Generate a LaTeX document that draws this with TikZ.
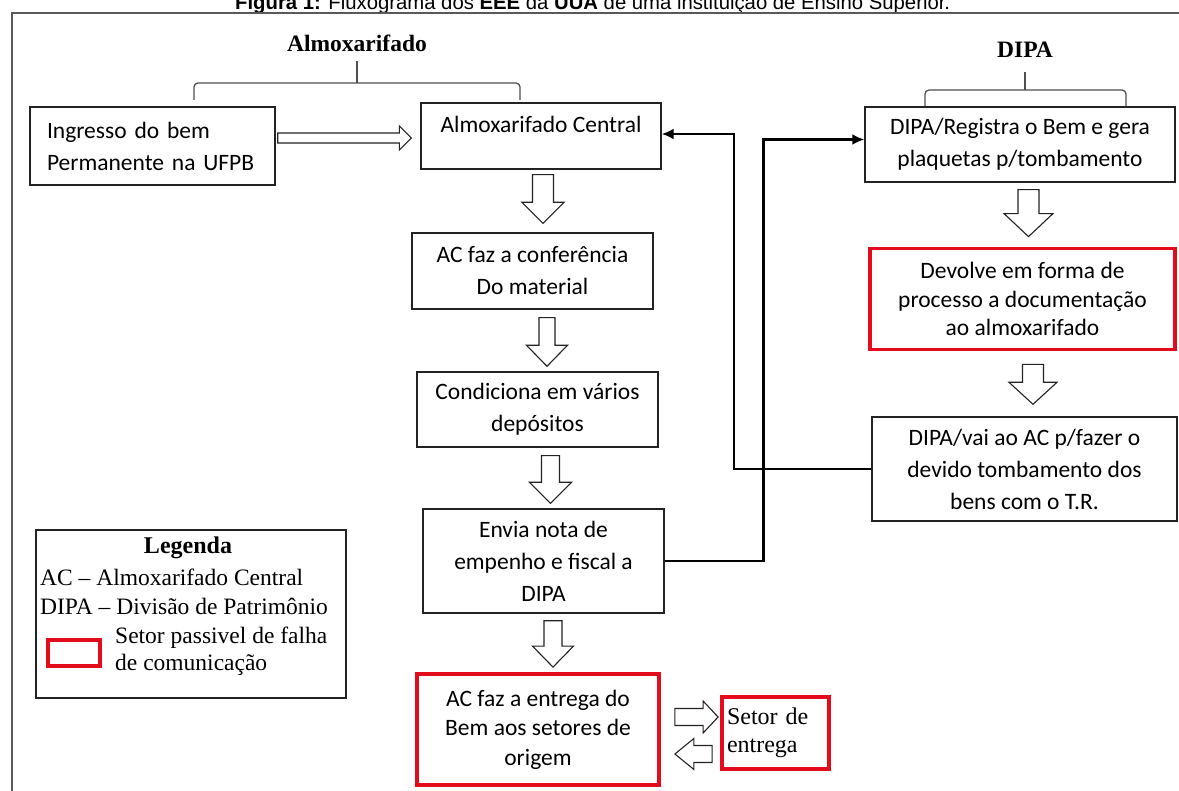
\documentclass[tikz,border=0pt]{standalone}
\usepackage{fontspec}
\setmainfont{Liberation Serif}
\newfontfamily\calib{Carlito}
\newfontfamily\arsans{Liberation Sans}
\usetikzlibrary{calc,arrows.meta}
\definecolor{frred}{RGB}{228,12,28}
\definecolor{lineg}{RGB}{35,35,35}
\tikzset{
  box/.style={draw=lineg, line width=1.4, align=center, inner sep=0,
    font=\calib\fontsize{23.5}{32}\selectfont},
  redbox/.style={box, draw=frred, line width=3.8},
  blk/.style={draw=lineg, line width=1.1, fill=white, line join=miter},
  conn/.style={draw=black, line width=2.4, -{Latex[length=12,width=11]}},
  brace/.style={draw=lineg!80, line width=1.3, rounded corners=4},
  legtxt/.style={font=\fontsize{23.5}{26}\selectfont, inner sep=0, align=left},
  frame/.style={draw=black!65, line width=2}
}
% vertical block arrow: start, tip, shaft half width, head half width, head length
\newcommand\vblk[5]{%
  \draw[blk] let \p1=(#1), \p2=(#2) in
    ({\x1-#3},{\y1}) -- ({\x1+#3},{\y1}) -- ({\x1+#3},{\y2+#5}) -- ({\x1+#4},{\y2+#5})
    -- ({\x1},{\y2}) -- ({\x1-#4},{\y2+#5}) -- ({\x1-#3},{\y2+#5}) -- cycle;}
% horizontal block arrow: start, tip, shaft half, head half, head length (negative = leftwards)
\newcommand\hblk[5]{%
  \draw[blk] let \p1=(#1), \p2=(#2) in
    ({\x1},{\y1-#3}) -- ({\x1},{\y1+#3}) -- ({\x2-(#5)},{\y1+#3}) -- ({\x2-(#5)},{\y1+#4})
    -- ({\x2},{\y1}) -- ({\x2-(#5)},{\y1-#4}) -- ({\x2-(#5)},{\y1-#3}) -- cycle;}
\begin{document}
\begin{tikzpicture}[x=1pt,y=-1pt]
\useasboundingbox (0,0) rectangle (1179,791);
\clip (0,0) rectangle (1179,791);
\fill[white] (0,0) rectangle (1179,791);

% caption (cut off at the top, as in the source)
\node[anchor=base west, font=\arsans\fontsize{20.3}{22}\selectfont, inner sep=0] (cap) at (235,9.5)
  {\textbf{Figura 1:} Fluxograma dos \textbf{EEE} da \textbf{UUA} de uma instituição de Ensino Superior.};

% outer frame
\draw[frame] (12,791) -- (12,13) -- (1179,13);

% headers and braces
\node[font=\bfseries\fontsize{23.5}{26}\selectfont, inner sep=0] (halm) at (357,43) {Almoxarifado};
\node[font=\bfseries\fontsize{23.5}{26}\selectfont, inner sep=0] (hdipa) at (1025,50) {DIPA};
\draw[brace] (194,100) -- (194,83) -- (520,83) -- (520,100);
\draw[brace] (357,83) -- (357,61);
\draw[brace] (925,106) -- (925,90) -- (1126,90) -- (1126,106);
\draw[brace] (1025,90) -- (1025,72);

% boxes
\node[box, align=left, text width=211, inner xsep=17, minimum height=78] (ingresso) at (152.5,146)
  {Ingresso do bem\\Permanente na UFPB};
\node[box, minimum width=240, minimum height=66, text depth=23] (almc) at (541,136)
  {Almoxarifado Central};
\node[box, minimum width=241, minimum height=76] (conf) at (532.5,271)
  {AC faz a conferência\\Do material};
\node[box, minimum width=241, minimum height=75] (cond) at (537.5,409.5)
  {Condiciona em vários\\depósitos};
\node[box, minimum width=241, minimum height=104] (envia) at (543.5,561)
  {Envia nota de\\empenho e fiscal a\\DIPA};
\node[redbox, minimum width=242, minimum height=111, font=\calib\fontsize{23.5}{29.5}\selectfont] (entrega) at (538,729.5)
  {AC faz a entrega do\\Bem aos setores de\\origem};
\node[redbox, align=left, text width=97, inner xsep=5, minimum height=72, font=\fontsize{24}{28}\selectfont] (setor) at (775.5,733)
  {Setor de\\entrega};
\node[box, minimum width=310, minimum height=75] (dreg) at (1020,144.5)
  {DIPA/Registra o Bem e gera\\plaquetas p/tombamento};
\node[redbox, minimum width=305, minimum height=101, font=\calib\fontsize{23.5}{28.5}\selectfont] (devolve) at (1022.5,299)
  {Devolve em forma de\\processo a documentação\\ao almoxarifado};
\node[box, minimum width=305, minimum height=104] (dvai) at (1024.5,469)
  {DIPA/vai ao AC p/fazer o\\devido tombamento dos\\bens com o T.R.};

% legend
\node[draw=lineg, line width=1.4, minimum width=310, minimum height=168, inner sep=0] (legend) at (191,614) {};
\node[font=\bfseries\fontsize{24}{26}\selectfont, inner sep=0] (legtitle) at (188,548) {Legenda};
\node[legtxt, anchor=west] (leg1) at (40,577) {AC -- Almoxarifado Central};
\node[legtxt, anchor=west] (leg2) at (40,606) {DIPA -- Divisão de Patrimônio};
\node[draw=frred, line width=3.8, minimum width=52, minimum height=26, inner sep=0] (legred) at (74,653) {};
\node[legtxt, anchor=west, font=\fontsize{23.5}{27}\selectfont] (leg3) at (115,651) {Setor passivel de falha\\de comunicação};

% block arrows
\hblk{$(ingresso.east)+(2,-8)$}{$(almc.west)+(-9,0)$}{5pt}{12pt}{12pt}
\vblk{$(almc.south)+(2,5)$}{$(conf.north)+(0,-9)$}{10.5pt}{21pt}{21pt}
\vblk{$(conf.south)+(14.5,8)$}{$(cond.north)+(0,-5)$}{8pt}{20.5pt}{21pt}
\vblk{$(cond.south)+(13,8)$}{$(envia.north)+(0,-5)$}{9pt}{21pt}{21pt}
\vblk{$(envia.south)+(9.5,7)$}{$(entrega.north)+(0,-5)$}{9pt}{20.5pt}{21pt}
\vblk{$(dreg.south)+(8.5,7)$}{$(devolve.north)+(0,-10)$}{10.5pt}{24.5pt}{23pt}
\vblk{$(devolve.south)+(10.5,13)$}{$(dvai.north)+(0,-12)$}{10.5pt}{24pt}{22pt}
\hblk{$(entrega.east)+(14,-12.5)$}{$(setor.west)+(-2,0)$}{8.5pt}{16pt}{15pt}
\hblk{$(setor.west)+(-8,21)$}{$(entrega.east)+(14,0)$}{8.5pt}{15.5pt}{-19pt}

% connectors
\draw[conn] (dvai.west) -| ($(almc.east)+(72,-2)$) -- ($(almc.east)+(0,-2)$);
\draw[conn] (envia.east) -| ($(dreg.west)+(-101,-5)$) -- ($(dreg.west)+(0,-5)$);
\end{tikzpicture}
\end{document}
